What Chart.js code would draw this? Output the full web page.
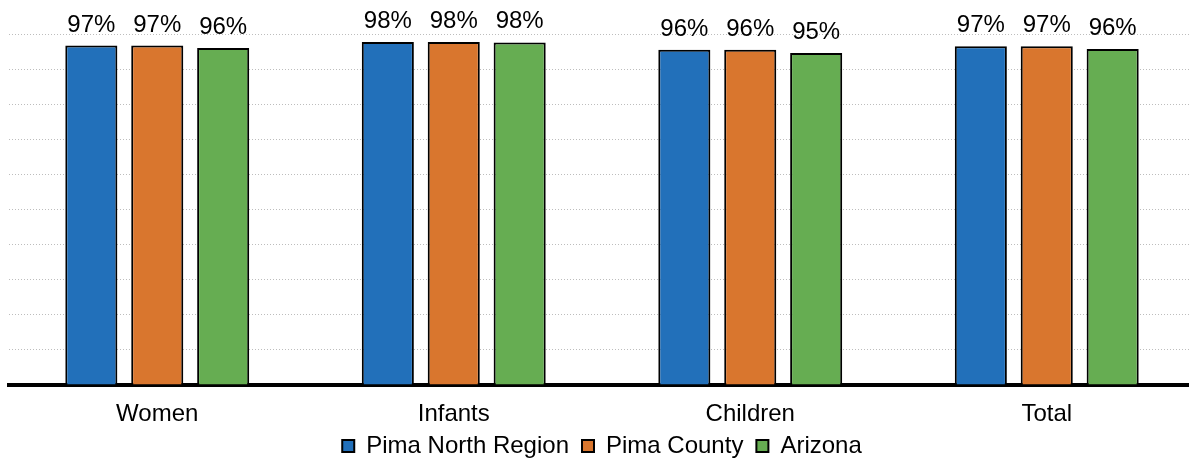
<!DOCTYPE html>
<html>
<head>
<meta charset="utf-8">
<script src="https://cdn.jsdelivr.net/npm/chart.js@4"></script>
<style>
  html, body { margin: 0; padding: 0; background: #fff; overflow: hidden; }
  #wrap { width: 1196px; height: 470px; }
</style>
</head>
<body>
<div id="wrap"><canvas id="c" width="1196" height="470"></canvas></div>
<script>
const categories = ["Women", "Infants", "Children", "Total"];
const seriesNames = ["Pima North Region", "Pima County", "Arizona"];
const pimaNorth = [96.7, 97.7, 95.5, 96.5];
const pimaCounty = [96.7, 97.7, 95.5, 96.5];
const arizona = [96.0, 97.6, 94.6, 95.7];
const yTicks = [0, 10, 20, 30, 40, 50, 60, 70, 80, 90, 100];
const colors = ["#2270ba", "#d9762e", "#66ad52"];

const FONT = "'Liberation Sans', Arial, sans-serif";

const dataLabels = {
  id: "dataLabels",
  afterDatasetsDraw(chart) {
    const ctx = chart.ctx;
    ctx.save();
    ctx.font = "24px " + FONT;
    ctx.fillStyle = "#000";
    ctx.textAlign = "center";
    ctx.textBaseline = "alphabetic";
    chart.data.datasets.forEach((ds, i) => {
      const meta = chart.getDatasetMeta(i);
      meta.data.forEach((bar, j) => {
        ctx.fillText(Math.round(ds.data[j]) + "%", bar.x, bar.y - 14);
      });
    });
    ctx.restore();
  }
};

const seriesData = [pimaNorth, pimaCounty, arizona];
new Chart(document.getElementById("c"), {
  type: "bar",
  data: {
    labels: categories,
    datasets: seriesNames.map((n, i) => ({
      label: n,
      data: seriesData[i],
      backgroundColor: colors[i],
      borderColor: "#000",
      borderWidth: 2,
      categoryPercentage: 0.667,
      barPercentage: 0.79
    }))
  },
  options: {
    responsive: false,
    animation: false,
    devicePixelRatio: 1,
    layout: { padding: { left: 9, right: 1, top: 34, bottom: 2 } },
    plugins: {
      legend: {
        position: "bottom",
        labels: {
          font: { family: FONT, size: 24 },
          color: "#000",
          boxWidth: 12,
          boxHeight: 12,
          padding: 13
        }
      },
      tooltip: { enabled: false }
    },
    scales: {
      x: {
        grid: { display: false },
        border: { display: true, color: "#000", width: 4 },
        ticks: { font: { family: FONT, size: 24 }, color: "#000", padding: 7 },
        afterFit(scale) { scale.height = 36; }
      },
      y: {
        min: 0,
        max: 100,
        afterBuildTicks(scale) { scale.ticks = yTicks.map(v => ({ value: v })); },
        ticks: { display: false },
        grid: { color: "#bdbdbd", lineWidth: 1, drawTicks: false },
        border: { display: false, dash: [1, 2] }
      }
    }
  },
  plugins: [dataLabels]
});
</script>
</body>
</html>
